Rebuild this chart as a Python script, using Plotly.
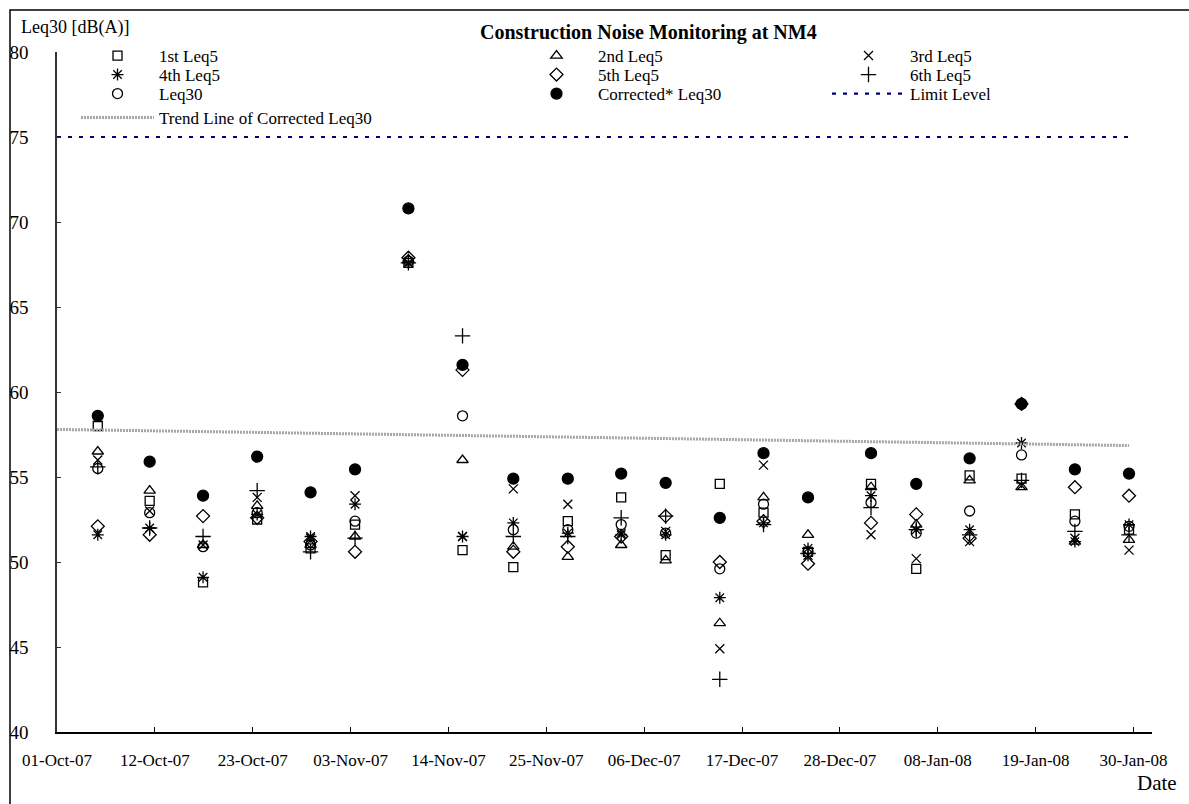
import plotly.graph_objects as go

# Monitoring sessions at NM4 (date and time of each 30-min measurement)
DATES = [
    "2007-10-05 14:00", "2007-10-11 10:00", "2007-10-17 10:00", "2007-10-23 12:00",
    "2007-10-29 12:00", "2007-11-03 12:00", "2007-11-09 12:00", "2007-11-15 14:00",
    "2007-11-21 07:00", "2007-11-27 10:00", "2007-12-03 10:00", "2007-12-08 10:00",
    "2007-12-14 12:00", "2007-12-19 10:00", "2007-12-24 10:00", "2007-12-31 12:00",
    "2008-01-05 14:00", "2008-01-11 14:00", "2008-01-17 10:00", "2008-01-23 10:00",
    "2008-01-29 12:00",
]

# Six consecutive 5-minute Leq readings per session, dB(A)
LEQ5_1ST = [58.0, 53.6, 48.8, 52.5, 50.8, 52.2, 67.6, 50.7, 49.7, 52.4, 53.8,
            50.4, 54.6, 52.9, 50.6, 54.6, 49.6, 55.1, 54.9, 52.8, 51.9]
LEQ5_2ND = [56.5, 54.2, 51.0, 53.3, 51.0, 51.5, 67.8, 56.0, 50.9, 50.3, 51.0,
            50.1, 46.4, 53.8, 51.6, 54.4, 52.2, 54.8, 54.4, 51.2, 51.3]
LEQ5_3RD = [56.0, 53.0, 51.0, 53.8, 51.4, 53.9, 67.6, 51.5, 54.3, 53.4, 51.7,
            51.8, 44.9, 55.7, 50.4, 51.6, 50.2, 51.2, 54.5, 51.4, 50.7]
LEQ5_4TH = [51.6, 52.0, 49.1, 52.8, 51.5, 53.4, 67.6, 51.5, 52.3, 51.7, 51.6,
            51.6, 47.9, 52.3, 50.8, 53.9, 51.9, 51.9, 57.0, 51.2, 52.2]
LEQ5_5TH = [52.1, 51.6, 52.7, 52.6, 51.2, 50.6, 67.9, 61.3, 50.6, 50.9, 51.5,
            52.7, 50.0, 52.4, 49.9, 52.3, 52.8, 51.4, 59.3, 54.4, 53.9]
LEQ5_6TH = [55.6, 52.0, 51.5, 54.2, 50.6, 51.4, 67.6, 63.3, 51.5, 51.5, 52.6,
            52.7, 43.1, 52.2, 50.5, 53.2, 51.9, 51.6, 54.8, 51.8, 51.6]
LEQ30 = [55.5, 52.9, 50.9, 52.9, 51.0, 52.4, 67.7, 58.6, 51.9, 51.9, 52.2,
         51.7, 49.6, 53.4, 50.6, 53.5, 51.7, 53.0, 56.3, 52.4, 52.1]
LEQ30_CORRECTED = [58.6, 55.9, 53.9, 56.2, 54.1, 55.45, 70.8, 61.6, 54.9, 54.9, 55.2,
                   54.66, 52.6, 56.4, 53.8, 56.4, 54.6, 56.1, 59.3, 55.45, 55.2]

# Linear trend of the corrected Leq30 (end points)
TREND_DATES = ["2007-10-01", "2008-01-29 12:00"]
TREND_VALUES = [57.8, 56.85]

# Construction noise limit
LIMIT_DATES = ["2007-10-01", "2008-01-29 12:00"]
LIMIT_VALUES = [75, 75]

Y_TICKS = [40, 45, 50, 55, 60, 65, 70, 75, 80]
X_RANGE = ["2007-10-01", "2008-02-01 02:00"]
X_TICK0 = "2007-10-01"
X_TICK_DAYS = 11

W, H = 1189, 804
PLOT_L, PLOT_R, PLOT_T, PLOT_B = 57, 1152, 52, 732
SERIF = "Liberation Serif"


def px_x(px):
    return (px - PLOT_L) / (PLOT_R - PLOT_L)


def px_y(py):
    return (PLOT_B - py) / (PLOT_B - PLOT_T)


fig = go.Figure()

series = [
    ("1st Leq5", LEQ5_1ST, "square-open", 9, "legend"),
    ("2nd Leq5", LEQ5_2ND, "triangle-up-open", 10, "legend2"),
    ("3rd Leq5", LEQ5_3RD, "x-thin-open", 9, "legend3"),
    ("4th Leq5", LEQ5_4TH, "asterisk-open", 10, "legend4"),
    ("5th Leq5", LEQ5_5TH, "diamond-open", 10, "legend5"),
    ("6th Leq5", LEQ5_6TH, "cross-thin-open", 11, "legend6"),
    ("Leq30", LEQ30, "circle-open", 10, "legend7"),
    ("Corrected* Leq30", LEQ30_CORRECTED, "circle", 11, "legend8"),
]

for name, values, symbol, size, leg in series:
    fig.add_trace(go.Scatter(
        x=DATES, y=values, mode="markers", name=name, legend=leg,
        marker=dict(symbol=symbol, size=size, color="black",
                    line=dict(color="black", width=1.3)),
    ))

fig.add_trace(go.Scatter(
    x=LIMIT_DATES, y=LIMIT_VALUES, mode="lines", name="Limit Level", legend="legend9",
    line=dict(color="#000080", width=2.2, dash="4px,7px"),
))
fig.add_trace(go.Scatter(
    x=TREND_DATES, y=TREND_VALUES, mode="lines", name="Trend Line of Corrected Leq30",
    legend="legend10", line=dict(color="#a6a6a6", width=3, dash="2px,1px"),
))

# Legend layout: three columns, four rows
col_x = [76, 515, 827]
row_y = [56, 75, 94, 118]
slots = [
    ("legend", 0, 0), ("legend2", 1, 0), ("legend3", 2, 0),
    ("legend4", 0, 1), ("legend5", 1, 1), ("legend6", 2, 1),
    ("legend7", 0, 2), ("legend8", 1, 2), ("legend9", 2, 2),
    ("legend10", 0, 3),
]
legends = {}
for key, c, r in slots:
    legends[key] = dict(
        xref="container", yref="container",
        x=col_x[c] / W, y=1 - row_y[r] / H,
        xanchor="left", yanchor="middle",
        bgcolor="rgba(0,0,0,0)", borderwidth=0,
        font=dict(family=SERIF, size=17, color="black"),
        itemwidth=73, tracegroupgap=0,
    )

fig.update_layout(
    width=W, height=H,
    margin=dict(l=PLOT_L, r=W - PLOT_R, t=PLOT_T, b=H - PLOT_B, pad=0, autoexpand=False),
    paper_bgcolor="white", plot_bgcolor="white",
    font=dict(family=SERIF, color="black"),
    showlegend=True,
    **legends,
)

fig.update_xaxes(
    type="date", range=X_RANGE, tick0=X_TICK0, dtick=X_TICK_DAYS * 86400000,
    tickformat="%d-%b-%y", ticks="inside", ticklen=5, tickcolor="black",
    showline=True, linecolor="black", linewidth=1.5, showgrid=False, zeroline=False,
    tickfont=dict(family=SERIF, size=17, color="black"), ticklabelstandoff=12,
    automargin=False,
)
fig.update_yaxes(
    range=[40, 80], tickvals=Y_TICKS, ticks="inside", ticklen=4, tickcolor="#333",
    showline=True, linecolor="#333", linewidth=1.5, showgrid=False, zeroline=False,
    tickfont=dict(family=SERIF, size=19, color="black"), ticklabelstandoff=23,
    automargin=False,
)

fig.add_annotation(
    text="<b>Construction Noise Monitoring at NM4</b>", xref="paper", yref="paper",
    x=px_x(648), y=px_y(32), showarrow=False, xanchor="center", yanchor="middle",
    font=dict(family=SERIF, size=20, color="black"),
)
fig.add_annotation(
    text="Leq30 [dB(A)]", xref="paper", yref="paper",
    x=px_x(19), y=px_y(28), showarrow=False, xanchor="left", yanchor="middle",
    font=dict(family=SERIF, size=18, color="black"),
)
fig.add_annotation(
    text="Date", xref="paper", yref="paper",
    x=px_x(1179), y=px_y(783), showarrow=False, xanchor="right", yanchor="middle",
    font=dict(family=SERIF, size=21, color="black"),
)

# Chart frame
fig.add_shape(
    type="rect", xref="paper", yref="paper",
    x0=px_x(10), y0=px_y(900), x1=px_x(1300), y1=px_y(10),
    line=dict(color="black", width=1.5), fillcolor="rgba(0,0,0,0)", layer="above",
)

fig.write_html("out.html")
